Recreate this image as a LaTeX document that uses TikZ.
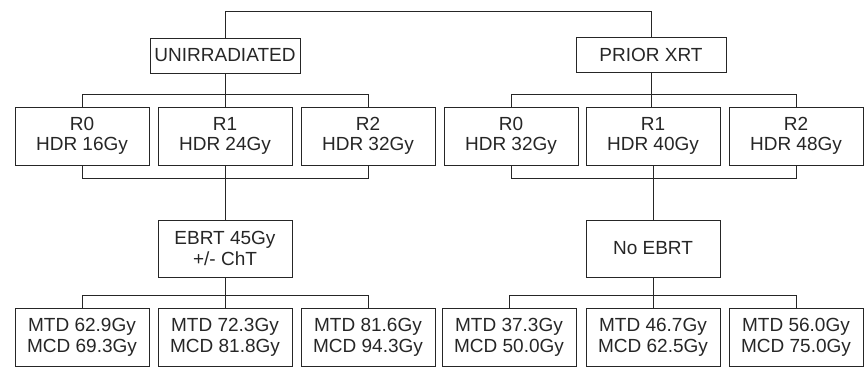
\documentclass[tikz,border=0pt]{standalone}
\usepackage{fontspec}
\setmainfont{Liberation Sans}

\begin{document}
\begin{tikzpicture}[x=1pt,y=-1pt,line width=.9pt,
  box/.style={draw=black!85,text=black!85,align=center,inner sep=0pt,
    minimum width=134pt,minimum height=58pt,font=\fontsize{19}{20.5}\selectfont},
  head/.style={box,minimum width=150pt,minimum height=35pt}]
\useasboundingbox (0,0) rectangle (865,367);
\node[head] (u) at (225,55.5) {UNIRRADIATED};
\node[head] (p) at (651,55) {PRIOR XRT};
\node[box] (u0) at (82,136) {R0\\HDR 16Gy};
\node[box] (u1) at (225,136) {R1\\HDR 24Gy};
\node[box] (u2) at (368,136) {R2\\HDR 32Gy};
\node[box] (p0) at (511,136) {R0\\HDR 32Gy};
\node[box] (p1) at (653,136) {R1\\HDR 40Gy};
\node[box] (p2) at (796,136) {R2\\HDR 48Gy};
\node[box,minimum height=57pt] (ue) at (225,248.5) {EBRT 45Gy\\+/- ChT};
\node[box,minimum height=57pt] (pe) at (653,248.5) {No EBRT};
\node[box] (um0) at (82,337.5) {MTD 62.9Gy\\MCD 69.3Gy};
\node[box] (um1) at (225,337.5) {MTD 72.3Gy\\MCD 81.8Gy};
\node[box] (um2) at (368,337.5) {MTD 81.6Gy\\MCD 94.3Gy};
\node[box] (pm0) at (509,337.5) {MTD 37.3Gy\\MCD 50.0Gy};
\node[box] (pm1) at (653,337.5) {MTD 46.7Gy\\MCD 62.5Gy};
\node[box] (pm2) at (796,337.5) {MTD 56.0Gy\\MCD 75.0Gy};
\begin{scope}[draw=black!85]
\draw (u.north) -- ++(0,-26) -| (p.north);
\draw (u.south) -- (u.south |- u1.north);
\draw (u0.north) -- ++(0,-12) -| (u2.north);
\draw (p.south) -- (p.south |- p1.north);
\draw (p0.north) -- ++(0,-12) -| (p2.north);
\draw (u0.south) -- ++(0,13) -| (u2.south);
\draw (u1.south) -- (ue.north);
\draw (p0.south) -- ++(0,13) -| (p2.south);
\draw (p1.south) -- (pe.north);
\draw (um0.north) -- ++(0,-13) -| (um2.north);
\draw (ue.south) -- (um1.north);
\draw (pm0.north) -- ++(0,-13) -| (pm2.north);
\draw (pe.south) -- (pm1.north);
\end{scope}
\end{tikzpicture}
\end{document}
